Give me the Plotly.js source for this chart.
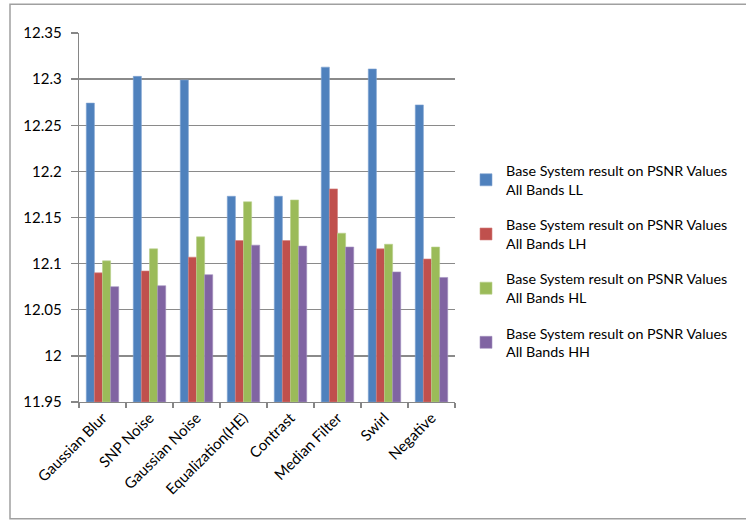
<!DOCTYPE html>
<html>
<head>
<meta charset="utf-8">
<script src="https://cdn.plot.ly/plotly-3.0.1.min.js"></script>
<style>html,body{margin:0;padding:0;background:#fff;}#chart{width:746px;height:520px;}</style>
</head>
<body>
<div id="chart"></div>
<script>
const categories = ["Gaussian Blur","SNP Noise","Gaussian Noise","Equalization(HE)","Contrast","Median Filter","Swirl","Negative"];
const seriesNames = [
  "Base System result on PSNR Values<br>All Bands LL",
  "Base System result on PSNR Values<br>All Bands LH",
  "Base System result on PSNR Values<br>All Bands HL",
  "Base System result on PSNR Values<br>All Bands HH"
];
const valuesLL = [12.274, 12.303, 12.299, 12.173, 12.173, 12.313, 12.311, 12.272];
const valuesLH = [12.090, 12.092, 12.107, 12.125, 12.125, 12.181, 12.116, 12.105];
const valuesHL = [12.103, 12.116, 12.129, 12.167, 12.169, 12.133, 12.121, 12.118];
const valuesHH = [12.075, 12.076, 12.088, 12.120, 12.119, 12.118, 12.091, 12.085];
const yTickVals = [11.95, 12, 12.05, 12.1, 12.15, 12.2, 12.25, 12.3, 12.35];
const yTickText = ["11.95","12","12.05","12.1","12.15","12.2","12.25","12.3","12.35"];

const colors = ["#4F81BD","#C0504D","#9BBB59","#8064A2"];
const edge = ["#7FA3D1","#D47F7D","#B9D08B","#A390BF"];
const allValues = [valuesLL, valuesLH, valuesHL, valuesHH];
const axisBase = 11.95;

const traces = allValues.map((vals, i) => ({
  type: "bar",
  x: categories,
  y: vals.map(v => v - axisBase),
  base: axisBase,
  name: seriesNames[i],
  legendgroup: "g" + i,
  marker: {color: colors[i], line: {color: edge[i], width: 0.6}},
  hoverinfo: "skip"
}));

const plotL = 79, plotR = 455, plotT = 33.3, plotB = 402.3;
const W = 746, H = 520;
const pw = plotR - plotL, ph = plotB - plotT;
const px2x = p => (p - plotL) / pw;
const py2y = p => (plotB - p) / ph;

const layout = {
  width: W, height: H,
  margin: {l: plotL, r: W - plotR, t: plotT, b: H - plotB, pad: 0},
  paper_bgcolor: "#ffffff",
  plot_bgcolor: "#ffffff",
  font: {family: "Lato, 'Open Sans', sans-serif", size: 14, color: "#000"},
  barmode: "group",
  bargap: 0.31,
  bargroupgap: 0,
  showlegend: true,
  legend: {
    x: px2x(466), xanchor: "left",
    y: py2y(155), yanchor: "top",
    font: {family: "Lato, sans-serif", size: 14.3, color: "#000"},
    traceorder: "grouped",
    tracegroupgap: 14,
    bgcolor: "rgba(0,0,0,0)"
  },
  xaxis: {
    type: "category",
    showgrid: false,
    showline: true, linecolor: "#868686", linewidth: 1.3,
    ticks: "outside", tickson: "boundaries", ticklen: 5, tickcolor: "#868686", tickwidth: 1.3,
    tickangle: -45,
    tickfont: {family: "Lato, sans-serif", size: 15, color: "#000"},
    zeroline: false,
    fixedrange: true
  },
  yaxis: {
    range: [11.95, 12.35],
    tickvals: yTickVals, ticktext: yTickText,
    showgrid: true, gridcolor: "#8a8a8a", gridwidth: 1.4,
    showline: true, linecolor: "#868686", linewidth: 1.3,
    ticks: "outside", ticklen: 7, tickcolor: "#868686", tickwidth: 1.3,
    ticklabelstandoff: 6,
    tickfont: {family: "Lato, sans-serif", size: 15, color: "#000"},
    zeroline: false,
    fixedrange: true
  },
  shapes: [{
    type: "rect", xref: "paper", yref: "paper", layer: "below",
    x0: px2x(10), x1: px2x(760), y0: py2y(519), y1: py2y(4.5),
    line: {color: "#a0a0a0", width: 1.5}, fillcolor: "rgba(0,0,0,0)"
  }]
};

Plotly.newPlot("chart", traces, layout, {displayModeBar: false, staticPlot: true});
</script>
</body>
</html>
